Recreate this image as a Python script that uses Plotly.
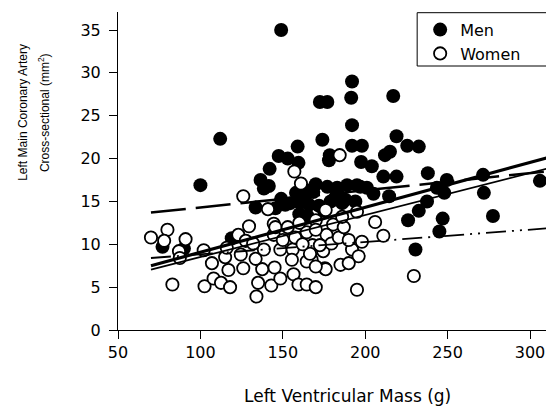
import plotly.graph_objects as go

# ---- data ----
x_ticks = [50, 100, 150, 200, 250, 300]
y_ticks = [0, 5, 10, 15, 20, 25, 30, 35]

men_x = [149, 112, 172.5, 177, 174, 159, 147.5, 153, 159.5, 142,
         192, 191.5, 217, 192, 192, 198, 219, 225.5, 232.5, 215,
         212, 178, 197.5, 204, 211, 219, 238, 214.5, 232.5, 226,
         237.5, 230.5, 195, 189, 183, 194, 136.5, 138.5, 141.5, 164.5,
         168.5, 154.5, 160.5, 177, 183, 133.5, 145.5, 151.5, 179, 100,
         77, 90, 119, 247, 245, 277.5, 272, 271.5, 306, 249.5,
         243.5, 248, 197, 178.5, 172, 186, 166, 201, 205, 160,
         165, 175, 182, 188, 170, 158, 149, 163.5]
men_y = [35.0, 22.3, 26.6, 26.6, 22.2, 21.4, 20.3, 20.0, 19.5, 18.8,
         29.0, 27.1, 27.3, 23.9, 21.5, 21.5, 22.6, 21.5, 21.4, 20.8,
         20.4, 19.8, 19.6, 19.1, 17.9, 17.9, 18.3, 15.6, 13.9, 12.8,
         15.0, 9.4, 16.9, 16.9, 16.6, 15.0, 17.5, 16.5, 16.8, 16.3,
         16.1, 14.8, 14.8, 16.7, 16.1, 14.3, 14.2, 14.6, 15.0, 16.9,
         9.7, 9.5, 10.7, 13.0, 11.5, 13.3, 16.0, 18.1, 17.4, 17.5,
         16.6, 16.0, 16.7, 20.4, 14.5, 14.8, 14.6, 16.6, 15.9, 13.5,
         13.3, 13.9, 15.5, 15.2, 17.0, 16.0, 15.3, 15.7]

women_x = [70, 80, 78, 91, 87, 87.5, 83, 102.5, 108, 112.5,
           118, 107, 117, 115, 123, 126, 124.5, 127.5, 129.5, 126,
           134, 135, 137.5, 133.5, 138.5, 132, 141, 144.5, 143, 145,
           148.5, 148.5, 144.5, 156.5, 156, 159.5, 164.5, 157.5, 164.5, 157,
           161, 166.5, 167.5, 170, 145.5, 180.5, 176.5, 174.5, 179.5, 164.5,
           175.5, 155.5, 184.5, 176, 195, 206, 211, 184, 168, 192,
           196, 166.5, 172.5, 185, 190, 176, 170, 195, 229.5, 153,
           150, 160, 170, 187, 102, 116, 162, 170, 186, 198, 190]
women_y = [10.8, 11.7, 10.4, 10.6, 9.2, 8.4, 5.3, 5.1, 6.0, 5.5,
           5.0, 7.8, 7.0, 8.5, 11.1, 7.2, 8.8, 10.4, 12.1, 15.6,
           3.9, 5.5, 7.1, 8.3, 9.4, 10.1, 14.1, 11.1, 5.2, 7.3,
           6.0, 9.4, 12.4, 6.5, 9.4, 5.3, 5.3, 10.8, 11.4, 18.5,
           17.1, 9.7, 8.2, 5.0, 12.0, 12.3, 11.1, 9.2, 10.1, 8.0,
           7.2, 8.2, 20.4, 14.0, 13.8, 12.6, 11.0, 10.8, 9.9, 9.4,
           8.6, 8.9, 9.9, 7.6, 7.8, 7.1, 7.4, 4.7, 6.3, 12.0,
           10.5, 12.5, 12.8, 12.0, 9.3, 9.6, 10.0, 11.7, 13.2, 10.3, 10.5]

# regression lines (end points)
fit_x = [70, 320]
all_fit_y = [7.5, 20.6]
alt_fit_y = [7.05, 19.3]
men_fit_y = [13.7, 18.7]
women_fit_y = [8.4, 12.0]

# ---- layout constants ----
OFF = 8                     # page body margin in the browser
W, H = 554 - OFF, 408 - OFF
L, R, T, B = 117.5 - OFF, 0, 12 - OFF, 78
PW, PH = W - L - R, H - T - B


def px_x(p):  # p: reference-picture pixel
    return (p - OFF - L) / PW


def px_y(p):
    return (H - B - (p - OFF)) / PH


TXT = "DejaVu Sans"

fig = go.Figure()
fig.add_trace(go.Scatter(
    x=men_x, y=men_y, mode="markers", name="Men",
    marker=dict(size=14, color="black", line=dict(width=0)),
))
fig.add_trace(go.Scatter(
    x=women_x, y=women_y, mode="markers", name="Women",
    marker=dict(size=12.3, color="white", line=dict(width=1.8, color="black")),
))
fig.add_trace(go.Scatter(x=fit_x, y=all_fit_y, mode="lines", showlegend=False,
                         line=dict(color="black", width=3.2)))
fig.add_trace(go.Scatter(x=fit_x, y=alt_fit_y, mode="lines", showlegend=False,
                         line=dict(color="black", width=1.8)))
fig.add_trace(go.Scatter(x=fit_x, y=men_fit_y, mode="lines", showlegend=False,
                         line=dict(color="black", width=2.5, dash="35px,10px")))
fig.add_trace(go.Scatter(x=fit_x, y=women_fit_y, mode="lines", showlegend=False,
                         line=dict(color="black", width=1.8,
                                   dash="20px,6px,2px,6px,2px,6px")))

axis_common = dict(
    ticks="outside", ticklen=8, tickwidth=1, tickcolor="black",
    showline=True, linecolor="black", linewidth=1,
    showgrid=False, zeroline=False,
    tickfont=dict(family=TXT, size=16, color="black"),
)
fig.update_xaxes(range=[50, 50 + PW / 1.65], tickvals=x_ticks, **axis_common)
fig.update_yaxes(range=[0, PH / 8.571], tickvals=y_ticks,
                 ticklabelstandoff=5, **axis_common)

fig.update_layout(
    width=W, height=H,
    margin=dict(l=L, r=R, t=T, b=B, pad=0),
    plot_bgcolor="white", paper_bgcolor="white",
    showlegend=True,
    legend=dict(
        x=px_x(420), y=px_y(12.7), xanchor="left", yanchor="top",
        bgcolor="rgba(0,0,0,0)", borderwidth=0,
        font=dict(family=TXT, size=16, color="black"),
    ),
    shapes=[dict(type="rect", xref="paper", yref="paper",
                 x0=px_x(417), x1=px_x(620), y0=px_y(66), y1=px_y(12.7),
                 line=dict(color="black", width=1), fillcolor="white",
                 layer="above")],
    annotations=[
        dict(text="Left Ventricular Mass (g)", xref="paper", yref="paper",
             x=px_x(347.5), y=px_y(396), xanchor="center", yanchor="middle",
             showarrow=False, font=dict(family=TXT, size=17, color="black")),
        dict(text="Left Main Coronary Artery", xref="paper", yref="paper",
             x=px_x(21.7), y=px_y(112.5), xanchor="center", yanchor="middle",
             textangle=-90, showarrow=False,
             font=dict(family="Liberation Sans", size=12, color="black")),
        dict(text="Cross-sectional (mm<sup>2</sup>)", xref="paper", yref="paper",
             x=px_x(43), y=px_y(112.5), xanchor="center", yanchor="middle",
             textangle=-90, showarrow=False,
             font=dict(family="Liberation Sans", size=12, color="black")),
    ],
)

fig.write_html("out.html")
